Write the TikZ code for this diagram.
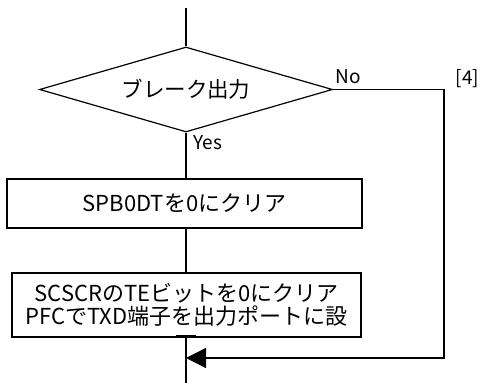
\documentclass[tikz,border=0pt]{standalone}
\usepackage{fontspec}
\setmainfont{Noto Sans CJK JP}
\usetikzlibrary{shapes.geometric,arrows.meta}
\begin{document}
\begin{tikzpicture}[x=1pt,y=-1pt, line width=1.2pt,
  box/.style={draw, rectangle, inner sep=0pt, align=center, font=\fontsize{22}{23}\selectfont},
  dec/.style={draw, diamond, aspect=3.45, minimum width=293pt, minimum height=85pt, inner sep=0pt, font=\fontsize{21.5}{23}\selectfont},
  lbl/.style={font=\fontsize{19}{21}\selectfont, inner sep=0pt},
  flow/.style={-{Triangle[length=20pt,width=20pt]}}]
\useasboundingbox[fill=white] (0,0) rectangle (483,383);
\coordinate (top) at (186,8);
\node[dec] (d) at (186,89.5) {ブレーク出力};
\node[box, minimum width=355pt, minimum height=49pt] (b1) at (184.5,203.5) {SPB0DTを0にクリア};
\node[box, minimum width=349pt, minimum height=64pt] (b2) at (186.5,305) {SCSCRのTEビットを0にクリア\\PFCでTXD端子を出力ポートに設};
\coordinate (corner1) at (444,89.5);
\coordinate (corner2) at (444,358);
\coordinate (merge) at (186,358);
\coordinate (bottom) at (186,383);
\draw (top) -- (d.north);
\draw (d.south) -- (d.south |- b1.north);
\draw (d.south |- b1.south) -- (d.south |- b2.north);
\draw (d.south |- b2.south) -- (bottom);
\draw ([xshift=-11pt,yshift=2pt]b2.south) -- ([xshift=9pt,yshift=2pt]b2.south);
\draw[flow] (d.east) -- (corner1) -- (corner2) -- (merge);
\node[lbl, anchor=south west] (no) at (335,84) {No};
\node[lbl, anchor=base west] (ref) at (455,84) {[4]};
\node[lbl, anchor=north west] (yes) at (193,135) {Yes};
\end{tikzpicture}
\end{document}
